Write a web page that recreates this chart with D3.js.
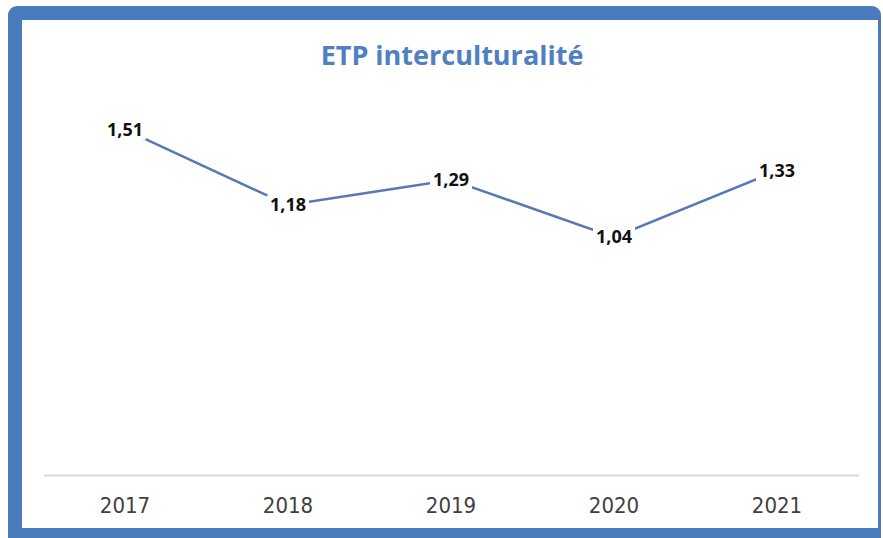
<!DOCTYPE html>
<html>
<head>
<meta charset="utf-8">
<script src="https://cdn.jsdelivr.net/npm/d3@7"></script>
<style>
  html, body { margin: 0; padding: 0; background: #ffffff; }
  svg { display: block; }
</style>
</head>
<body>
<svg id="chart" width="883" height="538"></svg>
<script>
// Chart data
const title = "ETP interculturalité";
const years = ["2017", "2018", "2019", "2020", "2021"];
const etp = [1.51, 1.18, 1.29, 1.04, 1.33];
const yDomain = [0, 1.6];

const svg = d3.select("#chart");

// Blue frame with white panel
svg.append("rect")
  .attr("x", 8).attr("y", 6).attr("width", 873).attr("height", 545)
  .attr("rx", 9).attr("fill", "#4a7cbd");
svg.append("rect")
  .attr("x", 22).attr("y", 20).attr("width", 856).attr("height", 508)
  .attr("fill", "#ffffff");

// Title
svg.append("text")
  .attr("x", 452).attr("y", 65)
  .attr("text-anchor", "middle")
  .attr("font-family", "'Open Sans', sans-serif")
  .attr("font-weight", "bold")
  .attr("font-size", 27)
  .attr("fill", "#4f80c1")
  .text(title);

// Scales
const x = d3.scaleBand().domain(years).range([43.5, 858.5]);
const y = d3.scaleLinear().domain(yDomain).range([475, 109]);
const cx = d => x(d) + x.bandwidth() / 2;

// Category axis
const axis = svg.append("g")
  .attr("transform", `translate(0,${y(0)})`)
  .call(d3.axisBottom(x).tickSize(0).tickPadding(22));
axis.select(".domain").attr("stroke", "#d9d9d9").attr("stroke-width", 2);
axis.selectAll("text")
  .attr("font-family", "'Liberation Sans Narrow', 'DejaVu Sans Condensed', sans-serif")
  .attr("font-size", 22)
  .attr("fill", "#404040");

// Series line
const pts = years.map((yr, i) => ({ yr, v: etp[i] }));
svg.append("path")
  .datum(pts)
  .attr("fill", "none")
  .attr("stroke", "#5878b4")
  .attr("stroke-width", 2.5)
  .attr("d", d3.line().x(d => cx(d.yr)).y(d => y(d.v)));

// Value labels centred on the points, on a white box
const fmt = v => d3.format(".2f")(v).replace(".", ",");
const lbl = svg.append("g").selectAll("g").data(pts).join("g")
  .attr("transform", d => `translate(${cx(d.yr)},${y(d.v)})`);
lbl.append("rect")
  .attr("x", -21).attr("y", -10).attr("width", 42).attr("height", 20)
  .attr("fill", "#ffffff");
lbl.append("text")
  .attr("text-anchor", "middle")
  .attr("dy", "0.35em")
  .attr("font-family", "'Open Sans', sans-serif")
  .attr("font-weight", "bold")
  .attr("font-size", 18)
  .attr("fill", "#111111")
  .text(d => fmt(d.v));
</script>
</body>
</html>
